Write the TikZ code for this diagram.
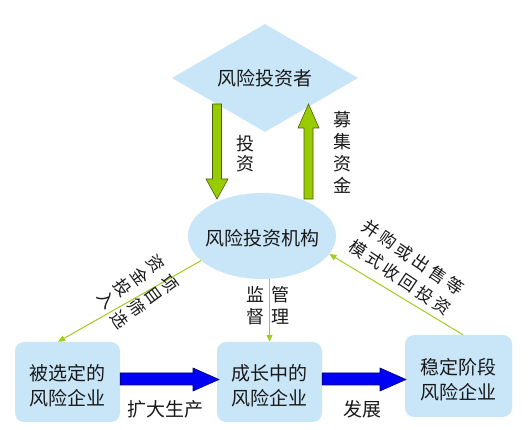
\documentclass[tikz,border=0pt]{standalone}
\usepackage{fontspec}
\setmainfont{Noto Sans CJK SC}
\usetikzlibrary{shapes.geometric,arrows.meta,calc}
\definecolor{fillblue}{RGB}{200,230,248}
\definecolor{thingreen}{RGB}{160,205,30}
\definecolor{fatgreen}{RGB}{153,204,0}
\definecolor{fatgreenline}{RGB}{70,95,10}
\definecolor{fatblue}{RGB}{0,0,245}
\definecolor{fatblueline}{RGB}{0,0,110}
\definecolor{txt}{RGB}{25,25,25}
\begin{document}
\begin{tikzpicture}[x=1pt,y=-1pt,
  mainfont/.style={font=\fontsize{19}{25}\selectfont, text=txt},
  labfont/.style={font=\fontsize{18}{22}\selectfont, text=txt, inner sep=0pt},
  rotfont/.style={font=\fontsize{17}{20}\selectfont, text=txt, inner sep=0pt},
  shapefill/.style={fill=fillblue, draw=none},
  boxstyle/.style={shapefill, rectangle, rounded corners=9pt, minimum width=105pt, minimum height=80pt, inner sep=0pt},
  boxtext/.style={mainfont, align=center, inner sep=0pt, yshift=-3.5pt},
  thinarrow/.style={draw=thingreen, line width=1pt, -{Triangle[length=7pt,width=6pt]}},
  greenblock/.style={fill=fatgreen, draw=fatgreenline, line width=0.6pt},
  blueblock/.style={fill=fatblue, draw=fatblueline, line width=0.6pt}]
\useasboundingbox (0,0) rectangle (531,430);
\fill[white] (0,0) rectangle (531,430);

% main shapes
\node[diamond, shapefill, aspect=1.72, minimum width=186pt, minimum height=108pt, inner sep=0pt, mainfont] (inv) at (265,78) {风险投资者};
\node[ellipse, shapefill, minimum width=148pt, minimum height=86pt, inner sep=0pt] (ell) at (262,236) {};
\node[mainfont, inner sep=0pt] (elltxt) at ($(ell.center)+(0,2)$) {风险投资机构};
\node[boxstyle, label={[boxtext]center:{被选定的\\风险企业}}] (box1) at (67.5,382) {};
\node[boxstyle, label={[boxtext]center:{成长中的\\风险企业}}] (box2) at (269.5,382) {};
\node[boxstyle, minimum width=107pt, minimum height=82pt, label={[boxtext]center:{稳定阶段\\风险企业}}] (box3) at (458.5,376) {};

% fat green arrows
\draw[greenblock] (212.5,104) -- (221.5,104) -- (221.5,179) -- (228,179) -- (217,199) -- (206,179) -- (212.5,179) -- cycle;
\draw[greenblock] (308.5,104) -- (319,128) -- (313,128) -- (313,199) -- (304,199) -- (304,128) -- (298,128) -- cycle;

% fat blue arrows
\draw[blueblock] (box1.east |- 0,373) -- (193,373) -- (193,368) -- (219,379.5) -- (193,391) -- (193,385) -- (box1.east |- 0,385) -- cycle;
\draw[blueblock] (box2.east |- 0,373) -- (380,373) -- (380,368) -- (406,379.5) -- (380,391) -- (380,385) -- (box2.east |- 0,385) -- cycle;

% thin green arrows
\draw[thinarrow] (ell.202) -- ($(box1.north)+(-9.5,0)$);
\draw[thinarrow] (box2.north |- ell.south) -- (box2.north);
\draw[thinarrow] ($(box3.north)+(4.5,0)$) -- (ell.345);

% labels
\node[labfont, align=center, font=\fontsize{18}{20}\selectfont] (ltz) at (245,154) {投\\资};
\node[labfont, align=center] (lmj) at (342,152) {募\\集\\资\\金};
\node[labfont, align=center] (ljd) at (255,306) {监\\督};
\node[labfont, align=center] (lgl) at (280,305) {管\\理};
\node[mainfont] (lkd) at (165,409) {扩大生产};
\node[mainfont] (lfz) at (362,409) {发展};

% rotated left label
\foreach \c [count=\i from 0] in {资,金,投,入}
  \node[rotfont, rotate=-54] (la\i) at (156-16.5*\i, 264+12*\i) {\c};
\foreach \c [count=\i from 0] in {项,目,筛,选}
  \node[rotfont, rotate=-54] (lb\i) at (169.5-16.5*\i, 283.5+12*\i) {\c};

% rotated right label
\foreach \c [count=\i from 0] in {并,购,或,出,售,等}
  \node[rotfont, rotate=-34] (ra\i) at (371+16.8*\i, 229+11.4*\i) {\c};
\foreach \c [count=\i from 0] in {模,式,收,回,投,资}
  \node[rotfont, rotate=-34] (rb\i) at (358+16.8*\i, 249+11.4*\i) {\c};
\end{tikzpicture}
\end{document}
